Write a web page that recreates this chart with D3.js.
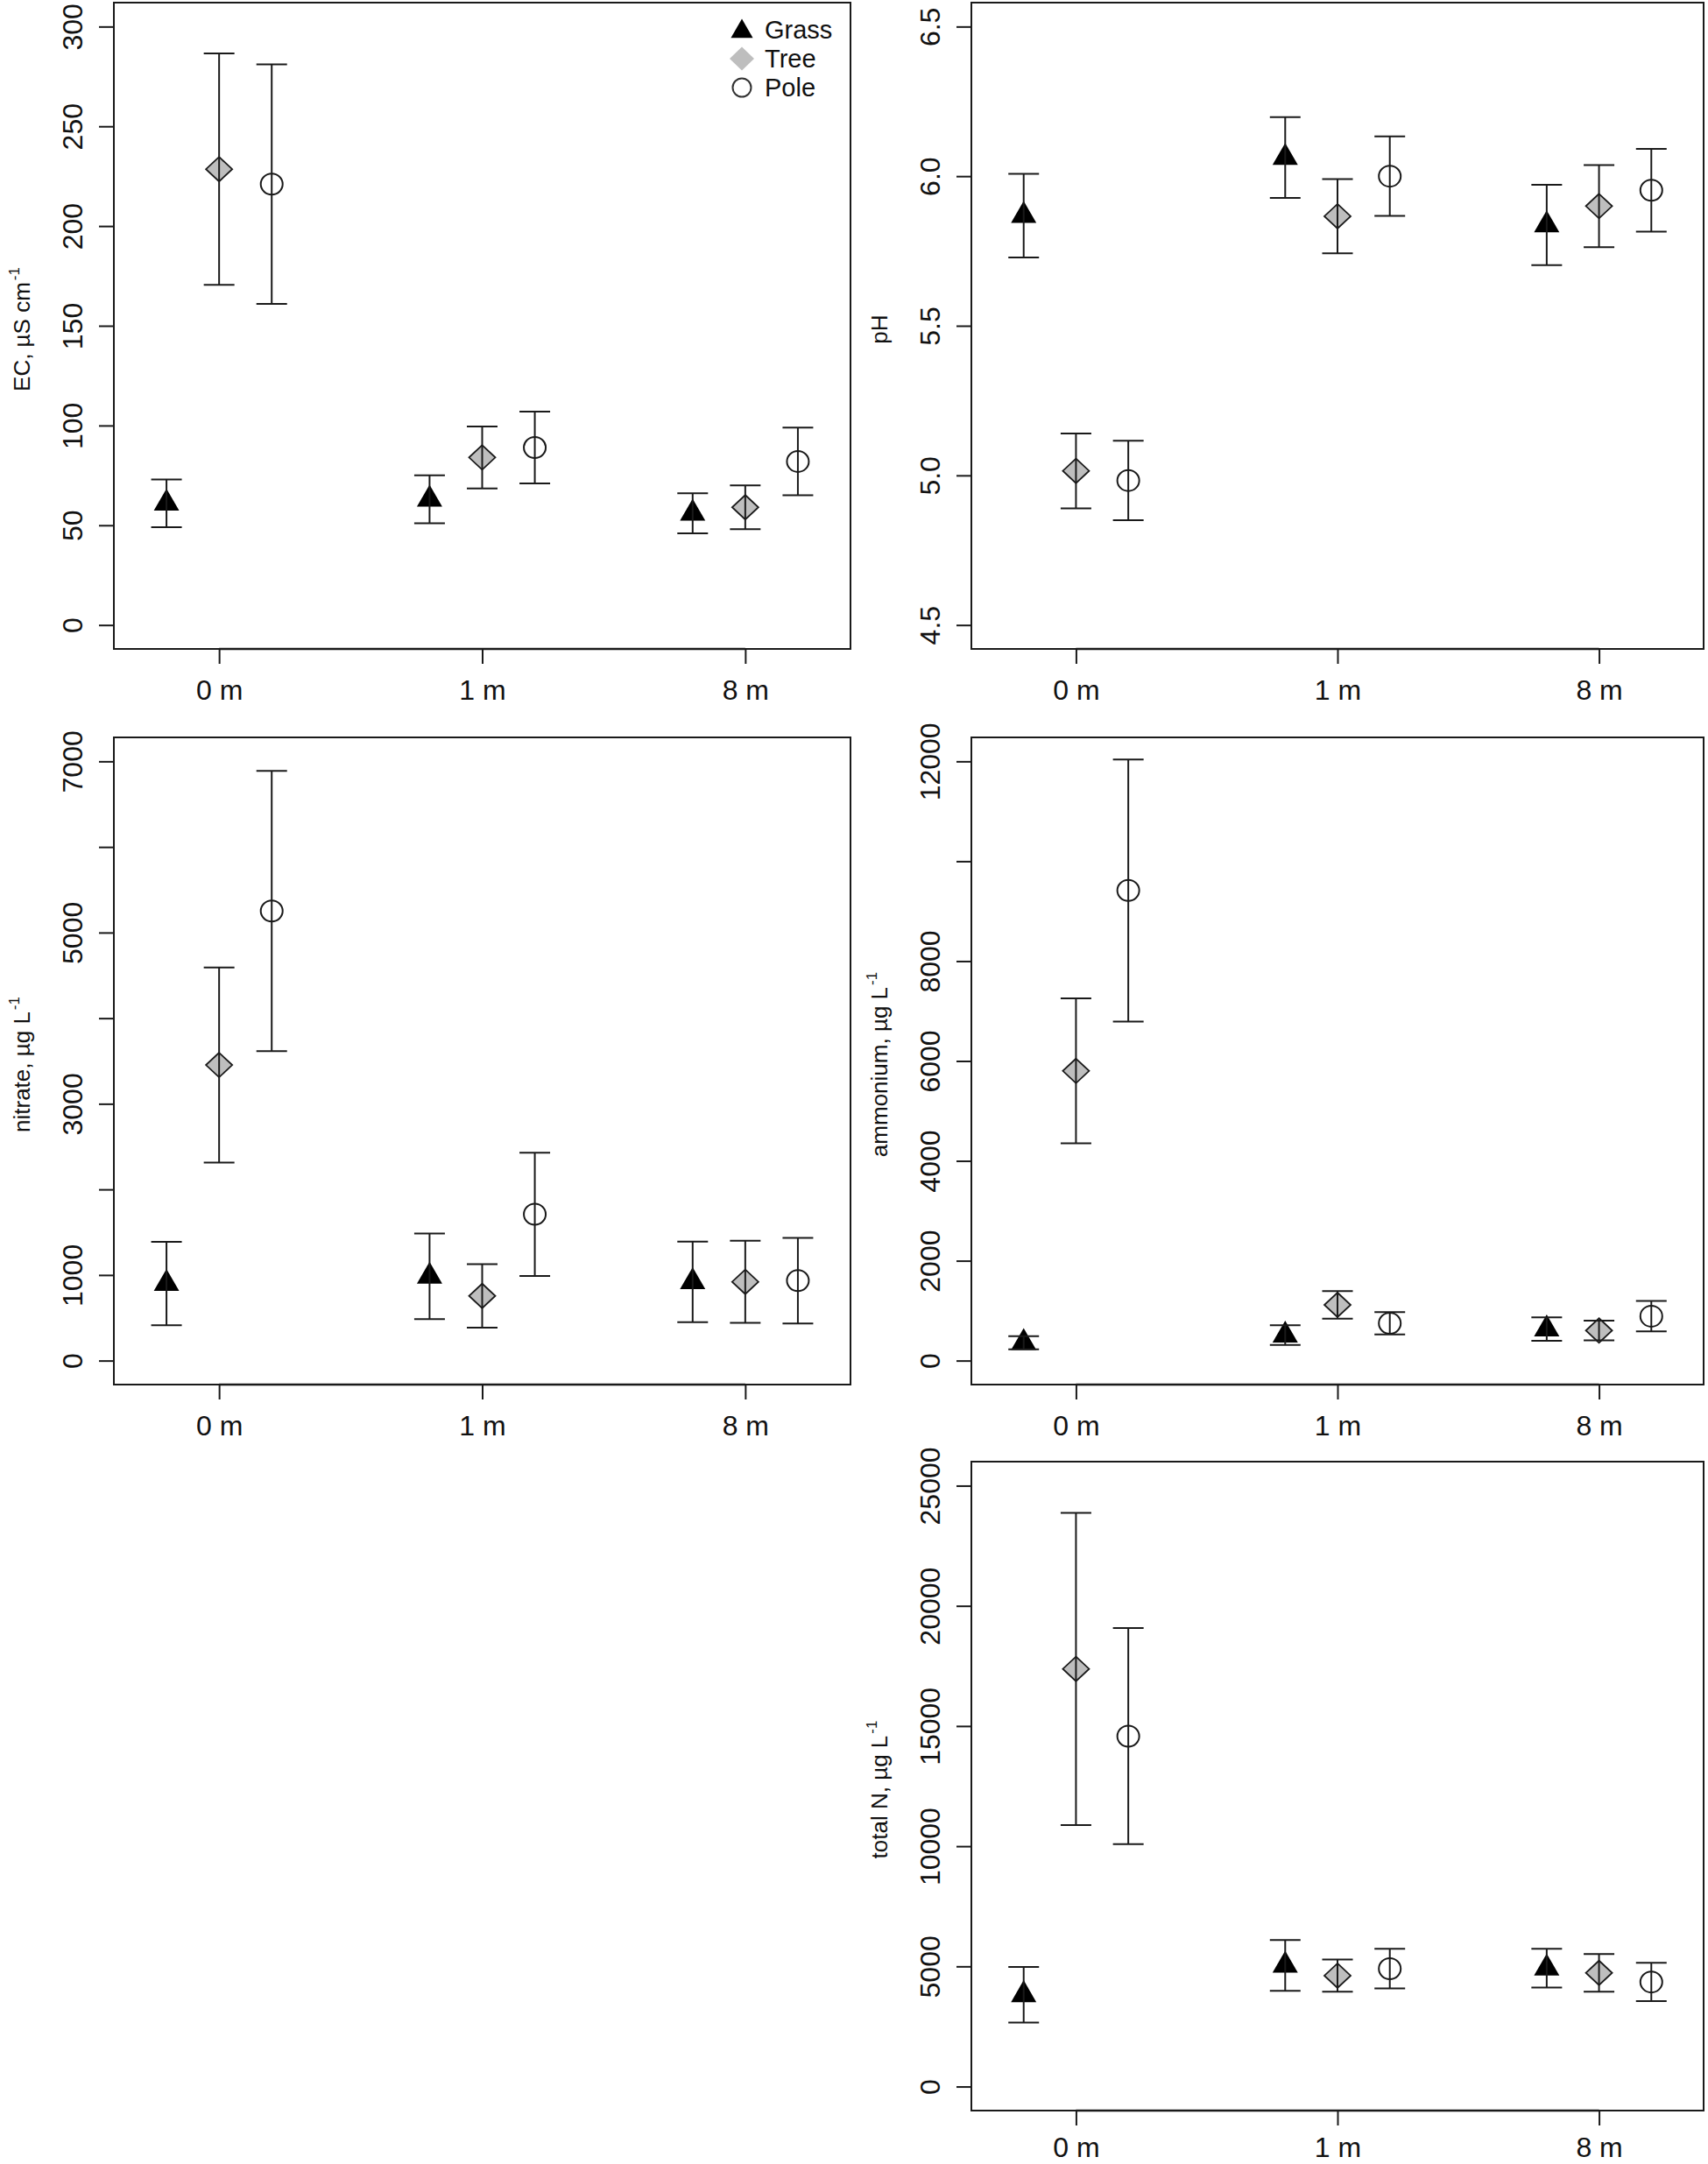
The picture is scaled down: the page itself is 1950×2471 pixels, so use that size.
<!DOCTYPE html>
<html>
<head>
<meta charset="utf-8">
<script src="https://cdn.jsdelivr.net/npm/d3@7/dist/d3.min.js"></script>
<style>
  html, body { margin: 0; padding: 0; background: #fff; }
  svg { display: block; }
  text { font-family: "Liberation Sans", Arial, Helvetica, sans-serif; fill: #111; }
</style>
</head>
<body>
<svg id="chart" width="1950" height="2471"></svg>
<script>
// ---------------- DATA ----------------
const categories = ["0 m", "1 m", "8 m"];
const groups = ["Grass", "Tree", "Pole"];
const groupOffsets = [-0.2, 0, 0.2];

// order within each: [Grass, Tree, Pole], each [0 m, 1 m, 8 m]
const ecMean = [[61, 63, 56], [228.5, 84, 59], [221, 89, 82]];
const ecSE   = [[12, 12, 10], [58, 15.5, 11], [60, 18, 17]];
const ecTicks = [0, 50, 100, 150, 200, 250, 300];
const ecLabels = [0, 50, 100, 150, 200, 250, 300];
const ecLim = [0, 300];

const phMean = [[5.868, 6.062, 5.837], [5.015, 5.866, 5.900], [4.983, 6.000, 5.953]];
const phSE   = [[0.140, 0.135, 0.134], [0.125, 0.124, 0.137], [0.133, 0.133, 0.138]];
const phTicks = [4.5, 5.0, 5.5, 6.0, 6.5];
const phLabels = [4.5, 5.0, 5.5, 6.0, 6.5];
const phLim = [4.5, 6.5];

const nitrateMean = [[900, 984, 920], [3453, 756, 920], [5252, 1709, 934]];
const nitrateSE   = [[487, 500, 470], [1140, 370, 480], [1637, 720, 500]];
const nitrateTicks = [0, 1000, 2000, 3000, 4000, 5000, 6000, 7000];
const nitrateLabels = [0, 1000, 3000, 5000, 7000];
const nitrateLim = [0, 7000];

const ammoniumMean = [[358, 509, 631], [5802, 1116, 603], [9414, 748, 890]];
const ammoniumSE   = [[132, 197, 236], [1450, 278, 198], [2623, 222, 306]];
const ammoniumTicks = [0, 2000, 4000, 6000, 8000, 10000, 12000];
const ammoniumLabels = [0, 2000, 4000, 6000, 8000, 12000];
const ammoniumLim = [0, 12000];

const totalNMean = [[3817, 5040, 4924], [17375, 4613, 4730], [14578, 4905, 4351]];
const totalNSE   = [[1156, 1058, 806], [6497, 670, 787], [4496, 825, 796]];
const totalNTicks = [0, 5000, 10000, 15000, 20000, 25000];
const totalNLabels = [0, 5000, 10000, 15000, 20000, 25000];
const totalNLim = [0, 25000];

// ---------------- LAYOUT ----------------
const cols = [[130, 971], [1109, 1945]];
const rows = [[3, 741], [842, 1581], [1669, 2410]];

const panels = [
  { col: 0, row: 0, mean: ecMean, se: ecSE, ticks: ecTicks, labels: ecLabels, lim: ecLim,
    title: "EC, µS cm", sup: "-1", fmt: d => String(d), legend: true },
  { col: 1, row: 0, mean: phMean, se: phSE, ticks: phTicks, labels: phLabels, lim: phLim,
    title: "pH", sup: null, fmt: d => d.toFixed(1) },
  { col: 0, row: 1, mean: nitrateMean, se: nitrateSE, ticks: nitrateTicks, labels: nitrateLabels, lim: nitrateLim,
    title: "nitrate, µg L", sup: "-1", fmt: d => String(d) },
  { col: 1, row: 1, mean: ammoniumMean, se: ammoniumSE, ticks: ammoniumTicks, labels: ammoniumLabels, lim: ammoniumLim,
    title: "ammonium, µg L", sup: "-1", fmt: d => String(d) },
  { col: 1, row: 2, mean: totalNMean, se: totalNSE, ticks: totalNTicks, labels: totalNLabels, lim: totalNLim,
    title: "total N, µg L", sup: "-1", fmt: d => String(d) }
];

const svg = d3.select("#chart");
svg.append("rect").attr("width", 1950).attr("height", 2471).attr("fill", "#fff");

const INK = "#1a1a1a";
const TREE_FILL = "#bebebe";
const tickFont = 32;

function trianglePath(r) {
  const h = r * Math.sqrt(3) / 2;
  return `M0,${-r}L${h},${r / 2}L${-h},${r / 2}Z`;
}
function diamondPath(w, h) {
  return `M0,${-h}L${w},0L0,${h}L${-w},0Z`;
}

function drawMarker(g, gi, cx, cy, scale) {
  scale = scale || 1;
  if (gi === 0) {
    g.append("path").attr("d", trianglePath(16.7 * scale))
      .attr("transform", `translate(${cx},${cy})`).attr("fill", "#000");
  } else if (gi === 1) {
    g.append("path").attr("d", diamondPath(15 * scale, 14 * scale))
      .attr("transform", `translate(${cx},${cy})`)
      .attr("fill", TREE_FILL).attr("stroke", INK).attr("stroke-width", 1.8);
  } else {
    g.append("ellipse").attr("cx", cx).attr("cy", cy)
      .attr("rx", 12.5 * scale).attr("ry", 12 * scale)
      .attr("fill", "none").attr("stroke", INK).attr("stroke-width", 2);
  }
}

panels.forEach(p => {
  const [L, R] = cols[p.col];
  const [T, B] = rows[p.row];
  const span = p.lim[1] - p.lim[0];
  const x = d3.scaleLinear().domain([0.6, 3.4]).range([L, R]);
  const y = d3.scaleLinear().domain([p.lim[0] - 0.04 * span, p.lim[1] + 0.04 * span]).range([B, T]);

  const g = svg.append("g");

  // points
  groups.forEach((grp, gi) => {
    categories.forEach((c, ci) => {
      const cx = x(ci + 1 + groupOffsets[gi]);
      const cy = y(p.mean[gi][ci]);
      drawMarker(g, gi, cx, cy);
    });
  });

  // error bars (drawn after the points, as in the original)
  groups.forEach((grp, gi) => {
    categories.forEach((c, ci) => {
      const cx = x(ci + 1 + groupOffsets[gi]);
      const m = p.mean[gi][ci], s = p.se[gi][ci];
      const y1 = y(m - s), y2 = y(m + s);
      g.append("line").attr("x1", cx).attr("x2", cx).attr("y1", y1).attr("y2", y2)
        .attr("stroke", INK).attr("stroke-width", 2);
      [y1, y2].forEach(yy => {
        g.append("line").attr("x1", cx - 17.5).attr("x2", cx + 17.5).attr("y1", yy).attr("y2", yy)
          .attr("stroke", INK).attr("stroke-width", 2);
      });
    });
  });

  // box
  g.append("rect").attr("x", L).attr("y", T).attr("width", R - L).attr("height", B - T)
    .attr("fill", "none").attr("stroke", INK).attr("stroke-width", 2);

  // x axis (bottom row labels pulled up slightly so they stay inside the page)
  const pad = p.row === 2 ? 13 : 18;
  const xAxis = d3.axisBottom(x).tickValues([1, 2, 3])
    .tickFormat((d, i) => categories[i]).tickSize(17).tickSizeOuter(0).tickPadding(pad);
  const gx = g.append("g").attr("transform", `translate(0,${B})`).call(xAxis);
  gx.select(".domain").remove();
  gx.selectAll(".tick line").attr("stroke", INK).attr("stroke-width", 2);
  gx.selectAll(".tick text").attr("font-size", tickFont).attr("fill", "#111")
    .attr("font-family", '"Liberation Sans", Arial, Helvetica, sans-serif');
  g.append("line").attr("x1", x(1)).attr("x2", x(3)).attr("y1", B).attr("y2", B)
    .attr("stroke", INK).attr("stroke-width", 2.6);

  // y axis
  const yAxis = d3.axisLeft(y).tickValues(p.ticks)
    .tickFormat(d => p.labels.some(v => Math.abs(v - d) < 1e-9) ? p.fmt(d) : "")
    .tickSize(17).tickSizeOuter(0);
  const gy = g.append("g").attr("transform", `translate(${L},0)`).call(yAxis);
  gy.select(".domain").remove();
  gy.selectAll(".tick line").attr("stroke", INK).attr("stroke-width", 2);
  gy.selectAll(".tick text")
    .attr("x", null).attr("dy", null)
    .attr("transform", "translate(-36,0) rotate(-90)")
    .attr("text-anchor", "middle")
    .attr("font-size", tickFont).attr("fill", "#111")
    .attr("font-family", '"Liberation Sans", Arial, Helvetica, sans-serif');

  // y title
  const t = g.append("text")
    .attr("transform", `translate(${L - 96},${(T + B) / 2 + 4}) rotate(-90)`)
    .attr("text-anchor", "middle").attr("font-size", 26);
  t.append("tspan").text(p.title);
  if (p.sup) {
    t.append("tspan").attr("font-size", 17).attr("dy", -12).attr("dx", 2).text(p.sup);
  }

  // legend
  if (p.legend) {
    const lg = g.append("g");
    const symX = 847, txtX = 873, top0 = 34, step = 33;
    groups.forEach((grp, gi) => {
      const yy = top0 + gi * step;
      if (gi === 0) {
        lg.append("path").attr("d", trianglePath(14.5))
          .attr("transform", `translate(${symX},${yy + 2})`).attr("fill", "#000");
      } else if (gi === 1) {
        lg.append("path").attr("d", diamondPath(14, 13.5))
          .attr("transform", `translate(${symX},${yy})`).attr("fill", TREE_FILL);
      } else {
        lg.append("circle").attr("cx", symX).attr("cy", yy).attr("r", 10.5)
          .attr("fill", "none").attr("stroke", "#333").attr("stroke-width", 2);
      }
      lg.append("text").attr("x", txtX).attr("y", yy + 10).attr("font-size", 29).text(grp);
    });
  }
});
</script>
</body>
</html>
